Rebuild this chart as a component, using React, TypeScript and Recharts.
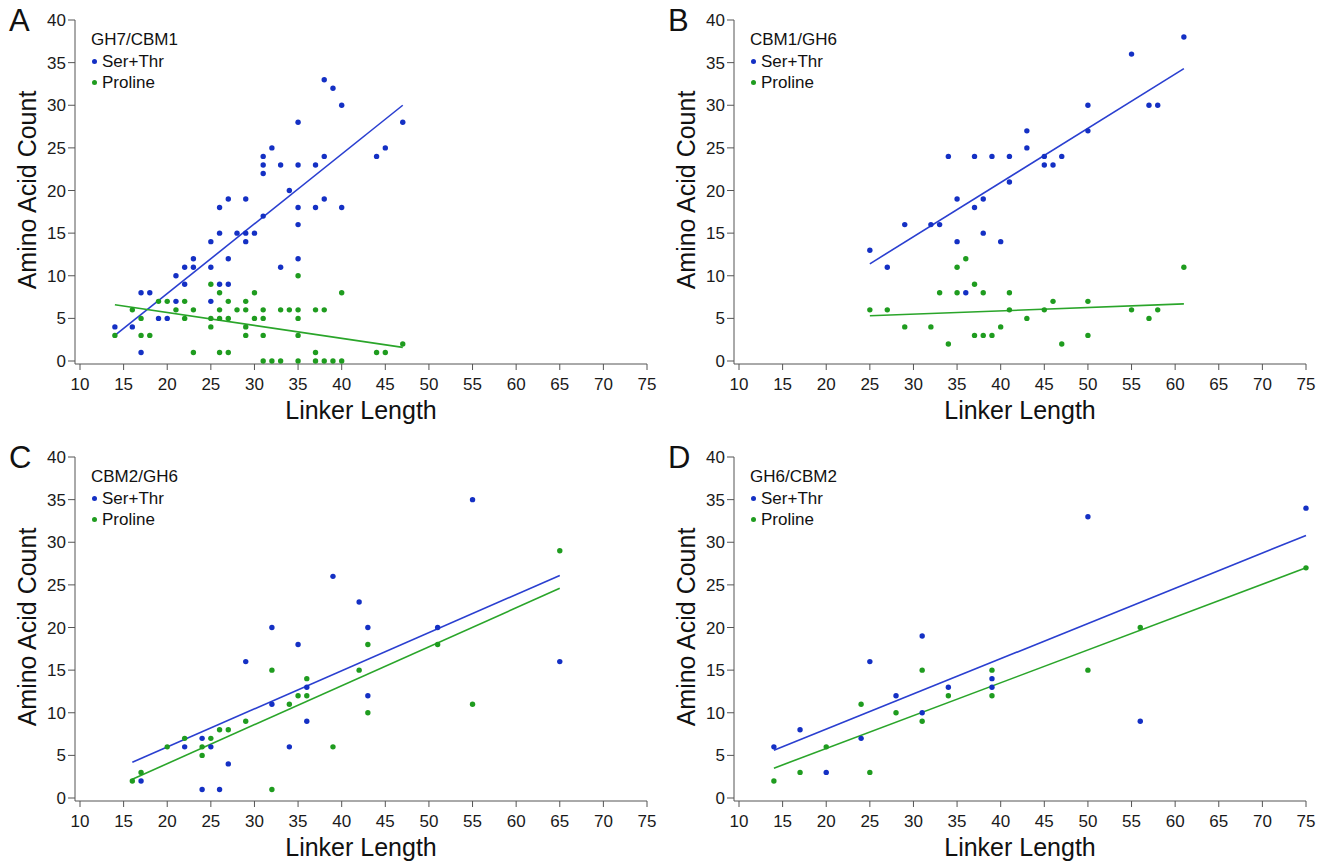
import React from 'react';
import { ScatterChart, Scatter, XAxis, YAxis, ReferenceLine } from 'recharts';

// x = linker length, y = amino acid count
const xTicks = [10, 15, 20, 25, 30, 35, 40, 45, 50, 55, 60, 65, 70, 75];
const yTicks = [0, 5, 10, 15, 20, 25, 30, 35, 40];

const aSerThr = [
  [14, 4], [16, 4], [17, 1], [17, 8], [18, 8], [19, 5], [20, 5], [21, 7], [21, 10], [22, 9],
  [22, 11], [23, 11], [23, 12], [25, 7], [25, 11], [25, 14], [26, 9], [27, 9], [26, 15], [26, 18],
  [27, 12], [27, 19], [28, 15], [29, 15], [29, 14], [29, 19], [30, 15], [31, 17], [31, 22], [31, 23],
  [31, 24], [32, 25], [33, 23], [33, 11], [34, 20], [35, 28], [35, 23], [35, 18], [35, 16], [35, 12],
  [37, 23], [37, 18], [38, 24], [38, 19], [38, 33], [39, 32], [40, 30], [40, 18], [44, 24], [45, 25],
  [47, 28],
];
const aProline = [
  [35, 10], [25, 9], [26, 8], [30, 8], [40, 8], [19, 7], [20, 7], [22, 7], [27, 7], [29, 7],
  [16, 6], [21, 6], [23, 6], [26, 6], [28, 6], [29, 6], [31, 6], [33, 6], [34, 6], [35, 6],
  [37, 6], [38, 6], [17, 5], [22, 5], [25, 5], [26, 5], [27, 5], [30, 5], [31, 5], [35, 5],
  [25, 4], [29, 4], [14, 3], [17, 3], [18, 3], [29, 3], [31, 3], [35, 3], [47, 2], [23, 1],
  [26, 1], [27, 1], [37, 1], [44, 1], [45, 1], [31, 0], [32, 0], [33, 0], [35, 0], [37, 0],
  [38, 0], [39, 0], [40, 0],
];
const aSerThrFit = [[14, 3.0], [47, 30.0]];
const aProlineFit = [[14, 6.6], [47, 1.6]];

const bSerThr = [
  [25, 13], [27, 11], [29, 16], [32, 16], [33, 16], [34, 24], [35, 19], [35, 14], [36, 8], [37, 18],
  [37, 24], [38, 19], [38, 15], [39, 24], [40, 14], [41, 24], [41, 21], [43, 27], [43, 25], [45, 24],
  [45, 23], [46, 23], [47, 24], [50, 27], [50, 30], [55, 36], [57, 30], [58, 30], [61, 38],
];
const bProline = [
  [25, 6], [27, 6], [29, 4], [32, 4], [33, 8], [34, 2], [35, 11], [35, 8], [36, 12], [37, 9],
  [37, 3], [38, 8], [38, 3], [39, 3], [40, 4], [41, 8], [41, 6], [43, 5], [45, 6], [46, 7],
  [47, 2], [50, 7], [50, 3], [55, 6], [57, 5], [58, 6], [61, 11],
];
const bSerThrFit = [[25, 11.4], [61, 34.3]];
const bProlineFit = [[25, 5.3], [61, 6.7]];

const cSerThr = [
  [17, 2], [22, 6], [24, 7], [24, 1], [25, 6], [26, 1], [27, 4], [29, 16], [32, 20], [32, 11],
  [34, 6], [35, 18], [36, 13], [36, 9], [39, 26], [42, 23], [43, 20], [43, 12], [51, 20], [55, 35],
  [65, 16],
];
const cProline = [
  [16, 2], [17, 3], [20, 6], [22, 7], [24, 6], [24, 5], [25, 7], [26, 8], [27, 8], [29, 9],
  [32, 15], [32, 1], [34, 11], [35, 12], [36, 14], [36, 12], [39, 6], [42, 15], [43, 18], [43, 10],
  [51, 18], [55, 11], [65, 29],
];
const cSerThrFit = [[16, 4.2], [65, 26.1]];
const cProlineFit = [[16, 2.2], [65, 24.6]];

const dSerThr = [
  [14, 6], [17, 8], [20, 3], [24, 7], [25, 16], [28, 12], [31, 19], [31, 10], [34, 13], [39, 14],
  [39, 13], [50, 33], [56, 9], [75, 34],
];
const dProline = [
  [14, 2], [17, 3], [20, 6], [24, 11], [25, 3], [28, 10], [31, 15], [31, 9], [34, 12], [39, 15],
  [39, 12], [50, 15], [56, 20], [75, 27],
];
const dSerThrFit = [[14, 5.6], [75, 30.8]];
const dProlineFit = [[14, 3.5], [75, 27.0]];

const BLUE = '#1430c4';
const BLUE_LINE = '#2a3fd0';
const GREEN = '#1f9c1f';
const GREEN_LINE = '#2aa52a';
const FONT = '"Liberation Sans", Arial, Helvetica, sans-serif';

const toPts = (arr: number[][]) => arr.map(([x, y]) => ({ x, y }));

const dot = (color: string) => (props: any) => (
  <circle cx={props.cx} cy={props.cy} r={2.7} fill={color} />
);

interface PanelProps {
  left: number;
  top: number;
  letter: string;
  title: string;
  serThr: number[][];
  proline: number[][];
  serThrFit: number[][];
  prolineFit: number[][];
}

const CW = 660;
const CH = 438;

const Panel: React.FC<PanelProps> = ({ left, top, letter, title, serThr, proline, serThrFit, prolineFit }) => {
  const legendRow = (color: string, text: string, cy: number) => (
    <div style={{ position: 'absolute', left: left + 90, top: top + cy - 11, height: 22, lineHeight: '22px', fontSize: 17, color: '#111', whiteSpace: 'nowrap' }}>
      <span style={{ display: 'inline-block', width: 5, height: 5, borderRadius: 3, background: color, margin: '0 5px 3px 2px', verticalAlign: 'middle' }} />
      {text}
    </div>
  );
  return (
    <>
      <div style={{ position: 'absolute', left, top }}>
        <ScatterChart width={CW} height={CH} margin={{ top: 20, right: 13, bottom: 14, left: 35 }}>
          <XAxis
            type="number"
            dataKey="x"
            domain={[10, 75]}
            ticks={xTicks}
            interval={0}
            padding={{ left: 5, right: 0 }}
            height={60}
            tickSize={6}
            tickMargin={8}
            stroke="#555"
            tick={{ fill: '#1a1a1a', fontSize: 17, fontFamily: FONT }}
            label={{ value: 'Linker Length', position: 'insideBottom', offset: 5, fontSize: 25, fill: '#111', fontFamily: FONT }}
          />
          <YAxis
            type="number"
            dataKey="y"
            domain={[0, 40]}
            ticks={yTicks}
            interval={0}
            padding={{ top: 0, bottom: 3 }}
            width={40}
            tickSize={7}
            tickMargin={2}
            stroke="#555"
            tick={{ fill: '#1a1a1a', fontSize: 17, fontFamily: FONT }}
          />
          <ReferenceLine
            segment={[{ x: serThrFit[0][0], y: serThrFit[0][1] }, { x: serThrFit[1][0], y: serThrFit[1][1] }]}
            stroke={BLUE_LINE}
            strokeWidth={1.6}
            ifOverflow="visible"
          />
          <ReferenceLine
            segment={[{ x: prolineFit[0][0], y: prolineFit[0][1] }, { x: prolineFit[1][0], y: prolineFit[1][1] }]}
            stroke={GREEN_LINE}
            strokeWidth={1.6}
            ifOverflow="visible"
          />
          <Scatter name="Ser+Thr" data={toPts(serThr)} fill={BLUE} shape={dot(BLUE)} isAnimationActive={false} />
          <Scatter name="Proline" data={toPts(proline)} fill={GREEN} shape={dot(GREEN)} isAnimationActive={false} />
        </ScatterChart>
      </div>
      <div style={{ position: 'absolute', left: left + 9, top: top + 4, fontSize: 31, lineHeight: '34px', color: '#111' }}>{letter}</div>
      <div
        style={{
          position: 'absolute', left: left + 27 - 150, top: top + 190 - 16, width: 300, height: 32,
          lineHeight: '32px', textAlign: 'center', fontSize: 25, color: '#111', transform: 'rotate(-90deg)', whiteSpace: 'nowrap',
        }}
      >
        Amino Acid Count
      </div>
      <div style={{ position: 'absolute', left: left + 91, top: top + 40 - 11, height: 22, lineHeight: '22px', fontSize: 17, color: '#111' }}>{title}</div>
      {legendRow(BLUE, 'Ser+Thr', 62)}
      {legendRow(GREEN, 'Proline', 83)}
    </>
  );
};

export default function App() {
  return (
    <div style={{ position: 'absolute', left: 0, top: 0, width: 1328, height: 864, background: '#fff', fontFamily: FONT, overflow: 'hidden' }}>
      <Panel left={0} top={0} letter="A" title="GH7/CBM1" serThr={aSerThr} proline={aProline} serThrFit={aSerThrFit} prolineFit={aProlineFit} />
      <Panel left={659} top={0} letter="B" title="CBM1/GH6" serThr={bSerThr} proline={bProline} serThrFit={bSerThrFit} prolineFit={bProlineFit} />
      <Panel left={0} top={437} letter="C" title="CBM2/GH6" serThr={cSerThr} proline={cProline} serThrFit={cSerThrFit} prolineFit={cProlineFit} />
      <Panel left={659} top={437} letter="D" title="GH6/CBM2" serThr={dSerThr} proline={dProline} serThrFit={dSerThrFit} prolineFit={dProlineFit} />
    </div>
  );
}
